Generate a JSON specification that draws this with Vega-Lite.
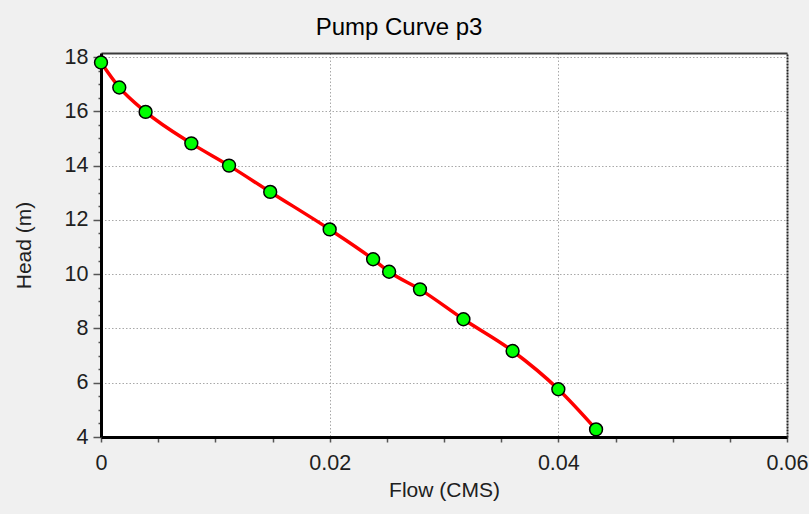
{
  "$schema": "https://vega.github.io/schema/vega-lite/v6.json",
  "width": 686,
  "height": 384,
  "autosize": {"type": "none"},
  "padding": {"left": 101, "top": 53, "right": 22, "bottom": 77},
  "background": "#f0f0f0",
  "view": {"fill": "white", "stroke": null},
  "title": {
    "text": "Pump Curve p3",
    "font": "Liberation Sans",
    "fontSize": 24,
    "fontWeight": "normal",
    "color": "#000000",
    "anchor": "middle",
    "frame": "group",
    "dx": -45,
    "offset": 6
  },
  "data": {
    "values": [
      {"flow": 0.0, "head": 17.8},
      {"flow": 0.0016, "head": 16.88},
      {"flow": 0.0039, "head": 15.98},
      {"flow": 0.0079, "head": 14.82},
      {"flow": 0.0112, "head": 14.0},
      {"flow": 0.0148, "head": 13.03},
      {"flow": 0.02, "head": 11.65},
      {"flow": 0.0238, "head": 10.55},
      {"flow": 0.0252, "head": 10.09},
      {"flow": 0.0279, "head": 9.44},
      {"flow": 0.0317, "head": 8.34},
      {"flow": 0.036, "head": 7.17},
      {"flow": 0.04, "head": 5.76},
      {"flow": 0.0433, "head": 4.28}
    ]
  },
  "resolve": {"axis": {"x": "independent", "y": "independent"}},
  "layer": [
    {
      "mark": {"type": "line", "color": "#ff0000", "strokeWidth": 3.5, "interpolate": "monotone"},
      "encoding": {
        "x": {
          "field": "flow",
          "type": "quantitative",
          "scale": {"domain": [0, 0.06], "nice": false, "zero": false},
          "axis": {
            "orient": "bottom",
            "title": "Flow (CMS)",
            "titleFont": "Liberation Sans",
            "titleFontSize": 21,
            "titleFontWeight": "normal",
            "titleColor": "#202020",
            "titlePadding": 6,
            "values": [0, 0.005, 0.01, 0.015, 0.02, 0.025, 0.03, 0.035, 0.04, 0.045, 0.05, 0.055, 0.06],
            "labelExpr": "abs(datum.value / 0.02 - round(datum.value / 0.02)) < 1e-6 ? format(datum.value, '.2~f') : ''",
            "labelFont": "Liberation Sans",
            "labelFontSize": 21.5,
            "labelColor": "#202020",
            "labelPadding": 10,
            "labelOverlap": false,
            "labelFlush": false,
            "domainColor": "#000000",
            "domainWidth": 3,
            "tickColor": "#555555",
            "tickSize": 5,
            "tickWidth": 1.5,
            "grid": true,
            "gridColor": "#a8a8a8",
            "gridDash": [1.5, 2],
            "gridWidth": 1,
            "gridOpacity": {"condition": {"test": "abs(datum.value / 0.02 - round(datum.value / 0.02)) < 1e-6", "value": 1}, "value": 0}
          }
        },
        "y": {
          "field": "head",
          "type": "quantitative",
          "scale": {"domain": [4, 18.15], "nice": false, "zero": false},
          "axis": {
            "orient": "left",
            "title": "Head (m)",
            "titleFont": "Liberation Sans",
            "titleFontSize": 21,
            "titleFontWeight": "normal",
            "titleColor": "#202020",
            "titlePadding": 30,
            "values": [4, 4.5, 5, 5.5, 6, 6.5, 7, 7.5, 8, 8.5, 9, 9.5, 10, 10.5, 11, 11.5, 12, 12.5, 13, 13.5, 14, 14.5, 15, 15.5, 16, 16.5, 17, 17.5, 18],
            "labelExpr": "datum.value % 2 === 0 ? format(datum.value, 'd') : ''",
            "labelFont": "Liberation Sans",
            "labelFontSize": 21.5,
            "labelColor": "#202020",
            "labelPadding": 5,
            "labelOverlap": false,
            "labelFlush": false,
            "domainColor": "#000000",
            "domainWidth": 3,
            "tickColor": "#555555",
            "tickWidth": 1.5,
            "tickSize": {"condition": {"test": "datum.value % 2 === 0", "value": 8}, "value": 3},
            "grid": true,
            "gridColor": "#a8a8a8",
            "gridDash": [1.5, 2],
            "gridWidth": 1,
            "gridOpacity": {"condition": {"test": "datum.value % 2 === 0", "value": 1}, "value": 0}
          }
        }
      }
    },
    {
      "mark": {"type": "point", "shape": "circle", "filled": true, "fill": "#00ff00", "stroke": "#000000", "strokeWidth": 1.5, "size": 165, "opacity": 1},
      "encoding": {
        "x": {
          "field": "flow",
          "type": "quantitative",
          "axis": {"orient": "top", "title": null, "labels": false, "ticks": false, "grid": false, "domainColor": "#3a3a3a", "domainWidth": 2}
        },
        "y": {
          "field": "head",
          "type": "quantitative",
          "axis": {"orient": "right", "title": null, "labels": false, "ticks": false, "grid": false, "domainColor": "#222222", "domainWidth": 2, "domainDash": [2, 1]}
        }
      }
    }
  ]
}
